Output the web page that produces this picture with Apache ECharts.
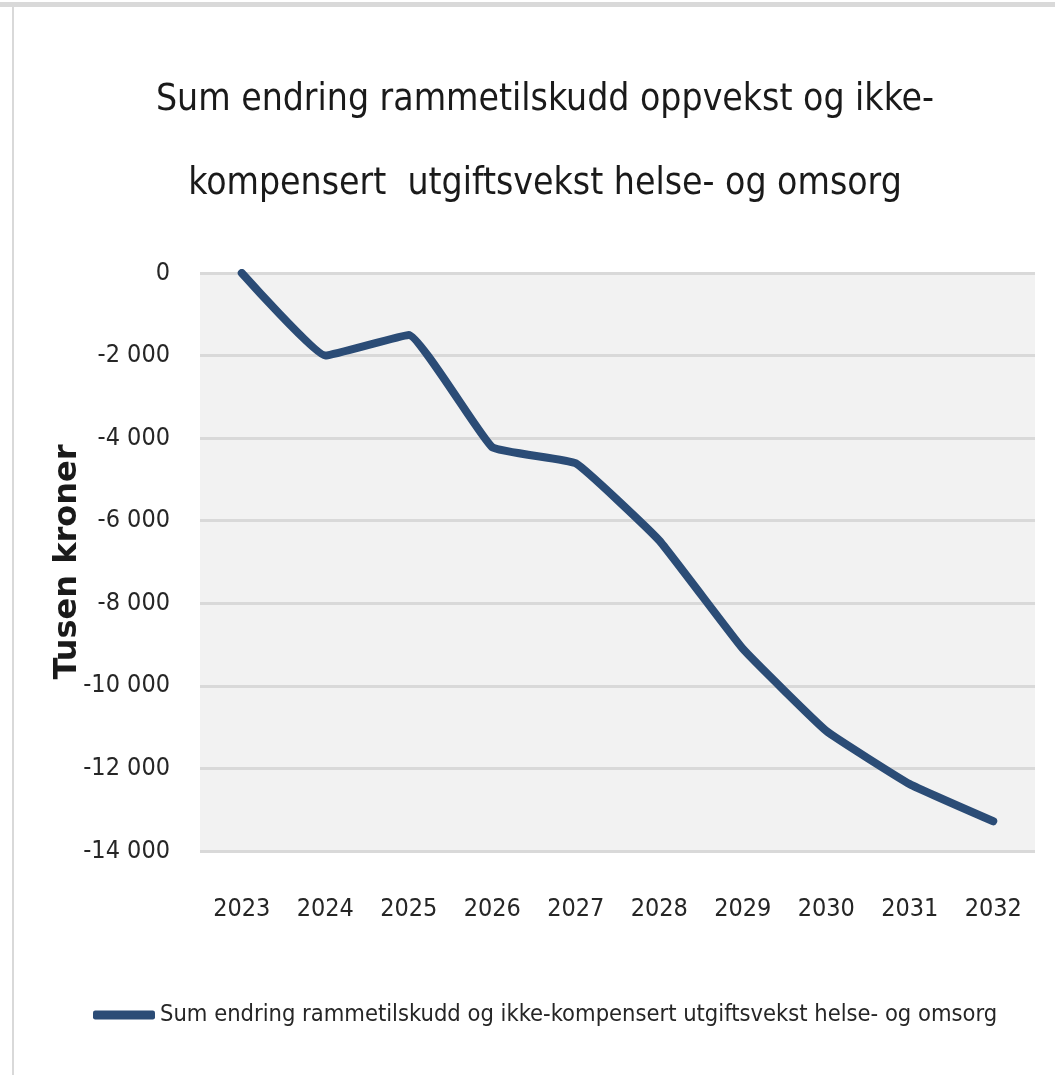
<!DOCTYPE html>
<html>
<head>
<meta charset="utf-8">
<script src="https://cdn.jsdelivr.net/npm/echarts@6/dist/echarts.min.js"></script>
<style>
  html, body { margin: 0; padding: 0; background: #fff; }
  #main { width: 1055px; height: 1075px; }
</style>
</head>
<body>
<div id="main"></div>
<script>
// data
var years = ["2023", "2024", "2025", "2026", "2027", "2028", "2029", "2030", "2031", "2032"];
var sumEndring = [0, -2000, -1500, -4220, -4610, -6480, -9100, -11090, -12380, -13280];
var seriesName = "Sum endring rammetilskudd og ikke-kompensert utgiftsvekst helse- og omsorg";
var titleText = "Sum endring rammetilskudd oppvekst og ikke-\nkompensert  utgiftsvekst helse- og omsorg";

var narrow = "'Liberation Sans Narrow', 'DejaVu Sans Condensed', 'Liberation Sans', sans-serif";

var chart = echarts.init(document.getElementById("main"));

var option = {
  backgroundColor: "#ffffff",
  animation: false,
  title: {
    text: titleText,
    left: 540,
    top: 53,
    textAlign: "center",
    textStyle: {
      fontFamily: narrow,
      fontSize: 37,
      fontWeight: "normal",
      color: "#1a1a1a",
      lineHeight: 84
    }
  },
  grid: {
    left: 200,
    right: 20,
    top: 273,
    bottom: 224,
    show: true,
    backgroundColor: "#f2f2f2",
    borderWidth: 0
  },
  legend: {
    data: [seriesName],
    left: 88,
    top: 998,
    icon: "roundRect",
    itemWidth: 62,
    itemHeight: 9,
    itemStyle: { borderWidth: 0 },
    textStyle: {
      fontFamily: narrow,
      fontSize: 23.5,
      color: "#262626"
    }
  },
  xAxis: {
    type: "category",
    data: years,
    boundaryGap: true,
    axisLine: { show: false },
    axisTick: { show: false },
    axisLabel: {
      margin: 46,
      fontFamily: narrow,
      fontSize: 25,
      color: "#262626"
    }
  },
  yAxis: {
    type: "value",
    min: -14000,
    max: 0,
    interval: 2000,
    name: "Tusen kroner",
    nameLocation: "middle",
    nameGap: 116,
    nameMoveOverlap: false,
    nameRotate: 90,
    nameTextStyle: {
      fontFamily: "'DejaVu Sans', sans-serif",
      fontWeight: "bold",
      fontSize: 32,
      color: "#1a1a1a"
    },
    axisLine: { show: false },
    axisTick: { show: false },
    splitLine: { lineStyle: { color: "#d9d9d9", width: 3 } },
    axisLabel: {
      margin: 30,
      fontFamily: narrow,
      fontSize: 25,
      color: "#262626",
      formatter: function (v) {
        var s = String(Math.abs(v)).replace(/\B(?=(\d{3})+(?!\d))/g, " ");
        return (v < 0 ? "-" : "") + s;
      }
    }
  },
  series: [
    {
      name: seriesName,
      type: "line",
      data: sumEndring,
      symbol: "none",
      smooth: 0.1,
      color: "#2b4c76",
      lineStyle: { width: 8, color: "#2b4c76", cap: "round", join: "round" }
    }
  ],
  graphic: [
    { type: "rect", shape: { x: 0, y: 2, width: 1055, height: 5 }, style: { fill: "#d9d9d9" } },
    { type: "rect", shape: { x: 12, y: 2, width: 2, height: 1073 }, style: { fill: "#d9d9d9" } }
  ]
};

chart.setOption(option);
</script>
</body>
</html>
